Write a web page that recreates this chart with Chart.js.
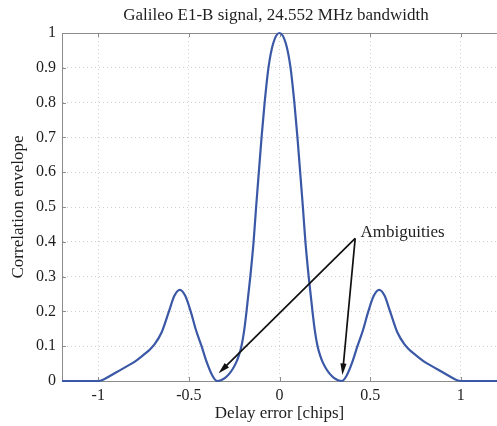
<!DOCTYPE html>
<html>
<head>
<meta charset="utf-8">
<script src="https://cdn.jsdelivr.net/npm/chart.js@4/dist/chart.umd.min.js"></script>
<style>
  html, body { margin: 0; padding: 0; background: #ffffff; }
  #wrap { width: 497px; height: 426px; position: relative; }
</style>
</head>
<body>
<div id="wrap"><canvas id="c" width="497" height="426"></canvas></div>
<script>
// ---- Data ----
const delay = [
  -1.2, -1.1, -1.0, -0.98, -0.95, -0.9, -0.85, -0.8, -0.75, -0.72, -0.69, -0.65, -0.61, -0.58, -0.55,
  -0.52, -0.49, -0.46, -0.43, -0.40, -0.37, -0.345, -0.32, -0.30, -0.28, -0.26, -0.24, -0.225, -0.21,
  -0.195, -0.182, -0.161, -0.143, -0.129, -0.114, -0.099, -0.082, -0.061, -0.035, 0,
  0.035, 0.061, 0.082, 0.099, 0.114, 0.129, 0.143, 0.161, 0.182, 0.195, 0.21, 0.225, 0.24, 0.26,
  0.28, 0.30, 0.32, 0.345, 0.37, 0.40, 0.43, 0.46, 0.49, 0.52, 0.55, 0.58, 0.61, 0.65, 0.69, 0.72,
  0.75, 0.8, 0.85, 0.9, 0.95, 0.98, 1.0, 1.1, 1.2
];
const envelope = [
  0, 0, 0, 0.002, 0.01, 0.025, 0.04, 0.055, 0.075, 0.088, 0.105, 0.14, 0.2, 0.245, 0.262,
  0.245, 0.2, 0.145, 0.1, 0.052, 0.015, 0, 0.003, 0.009, 0.019, 0.033, 0.052, 0.072, 0.1,
  0.145, 0.2, 0.3, 0.4, 0.5, 0.6, 0.7, 0.8, 0.9, 0.97, 1.0,
  0.97, 0.9, 0.8, 0.7, 0.6, 0.5, 0.4, 0.3, 0.2, 0.145, 0.1, 0.072, 0.052, 0.033,
  0.019, 0.009, 0.003, 0, 0.015, 0.052, 0.1, 0.145, 0.2, 0.245, 0.262, 0.245, 0.2, 0.14, 0.105, 0.088,
  0.075, 0.055, 0.04, 0.025, 0.01, 0.002, 0, 0, 0
];
const xTicks = [-1, -0.5, 0, 0.5, 1];
const xTickLabels = ['-1', '-0.5', '0', '0.5', '1'];
const yTicks = [0, 0.1, 0.2, 0.3, 0.4, 0.5, 0.6, 0.7, 0.8, 0.9, 1];
const yTickLabels = ['0', '0.1', '0.2', '0.3', '0.4', '0.5', '0.6', '0.7', '0.8', '0.9', '1'];
const titleText = 'Galileo E1-B signal, 24.552 MHz bandwidth';
const xTitle = 'Delay error [chips]';
const yTitle = 'Correlation envelope';
// annotation (data coordinates)
const annotLabel = 'Ambiguities';
const annotLabelPos = [0.447, 0.428];
const arrowStart = [0.4175, 0.41];
const arrowEnds = [[-0.336, 0.022], [0.347, 0.017]];

const FONT = '"Liberation Serif", "Times New Roman", serif';
const points = delay.map((d, i) => ({ x: d, y: envelope[i] }));

const decorPlugin = {
  id: 'decor',
  beforeDatasetsDraw(chart) {
    const { ctx, chartArea: a, scales: { x, y } } = chart;
    ctx.save();
    ctx.strokeStyle = '#8c8c8c';
    ctx.lineWidth = 1;
    ctx.beginPath();
    ctx.moveTo(a.left, a.top + 0.5);
    ctx.lineTo(a.right, a.top + 0.5);
    ctx.stroke();
    ctx.beginPath();
    xTicks.forEach(v => {
      const px = Math.round(x.getPixelForValue(v)) + 0.5;
      ctx.moveTo(px, a.bottom); ctx.lineTo(px, a.bottom - 4);
      ctx.moveTo(px, a.top); ctx.lineTo(px, a.top + 4);
    });
    yTicks.forEach(v => {
      const py = Math.round(y.getPixelForValue(v)) + 0.5;
      ctx.moveTo(a.left, py); ctx.lineTo(a.left + 4, py);
    });
    ctx.stroke();
    ctx.restore();
  },
  afterDatasetsDraw(chart) {
    const { ctx, chartArea: a, scales: { x, y } } = chart;
    ctx.save();
    ctx.fillStyle = '#1e1e1e';
    ctx.font = '17px ' + FONT;
    ctx.textAlign = 'center';
    ctx.textBaseline = 'middle';
    ctx.fillText(titleText, 276, 16);
    const sx = x.getPixelForValue(arrowStart[0]);
    const sy = y.getPixelForValue(arrowStart[1]);
    ctx.strokeStyle = '#111';
    ctx.fillStyle = '#111';
    ctx.lineWidth = 1.7;
    arrowEnds.forEach(e => {
      const ex = x.getPixelForValue(e[0]);
      const ey = y.getPixelForValue(e[1]);
      const ang = Math.atan2(ey - sy, ex - sx);
      const L = 12, W = 0.26;
      ctx.beginPath();
      ctx.moveTo(sx, sy);
      ctx.lineTo(ex - Math.cos(ang) * 6, ey - Math.sin(ang) * 6);
      ctx.stroke();
      ctx.beginPath();
      ctx.moveTo(ex, ey);
      ctx.lineTo(ex - L * Math.cos(ang - W), ey - L * Math.sin(ang - W));
      ctx.lineTo(ex - L * Math.cos(ang + W), ey - L * Math.sin(ang + W));
      ctx.closePath();
      ctx.fill();
    });
    ctx.fillStyle = '#1e1e1e';
    ctx.font = '17px ' + FONT;
    ctx.textAlign = 'left';
    ctx.textBaseline = 'middle';
    ctx.fillText(annotLabel, x.getPixelForValue(annotLabelPos[0]), y.getPixelForValue(annotLabelPos[1]));
    ctx.restore();
  }
};

new Chart(document.getElementById('c'), {
  type: 'line',
  data: {
    datasets: [{
      data: points,
      borderColor: '#3a58a6',
      borderWidth: 2.2,
      pointRadius: 0,
      fill: false,
      cubicInterpolationMode: 'monotone',
      clip: 4
    }]
  },
  options: {
    responsive: false,
    animation: false,
    layout: { padding: { top: 33, right: 0, left: 0, bottom: 0 } },
    plugins: { legend: { display: false }, tooltip: { enabled: false }, title: { display: false } },
    scales: {
      x: {
        type: 'linear',
        min: -1.2, max: 1.2,
        afterBuildTicks: s => { s.ticks = xTicks.map(v => ({ value: v })); },
        afterFit: s => { s.height = 45; },
        ticks: {
          color: '#1e1e1e',
          font: { family: FONT, size: 16 },
          padding: 5,
          maxRotation: 0,
          callback: (v) => xTickLabels[xTicks.indexOf(v)]
        },
        grid: { color: '#cfcfcf', drawTicks: false, lineWidth: 1 },
        border: { display: true, color: '#8c8c8c', width: 1, dash: [1, 3] },
        title: {
          display: true, text: xTitle, color: '#1e1e1e',
          font: { family: FONT, size: 17 }, padding: { top: 0, bottom: 2 }
        }
      },
      y: {
        type: 'linear',
        min: 0, max: 1,
        afterBuildTicks: s => { s.ticks = yTicks.map(v => ({ value: v })); },
        afterFit: s => { s.width = 62; },
        ticks: {
          color: '#1e1e1e',
          font: { family: FONT, size: 16 },
          padding: 6,
          callback: (v) => yTickLabels[yTicks.indexOf(v)]
        },
        grid: { color: '#cfcfcf', drawTicks: false, lineWidth: 1 },
        border: { display: true, color: '#8c8c8c', width: 1, dash: [1, 3] },
        title: {
          display: true, text: yTitle, color: '#1e1e1e',
          font: { family: FONT, size: 17 }, padding: { top: 8, bottom: 0 }
        }
      }
    }
  },
  plugins: [decorPlugin]
});
</script>
</body>
</html>
